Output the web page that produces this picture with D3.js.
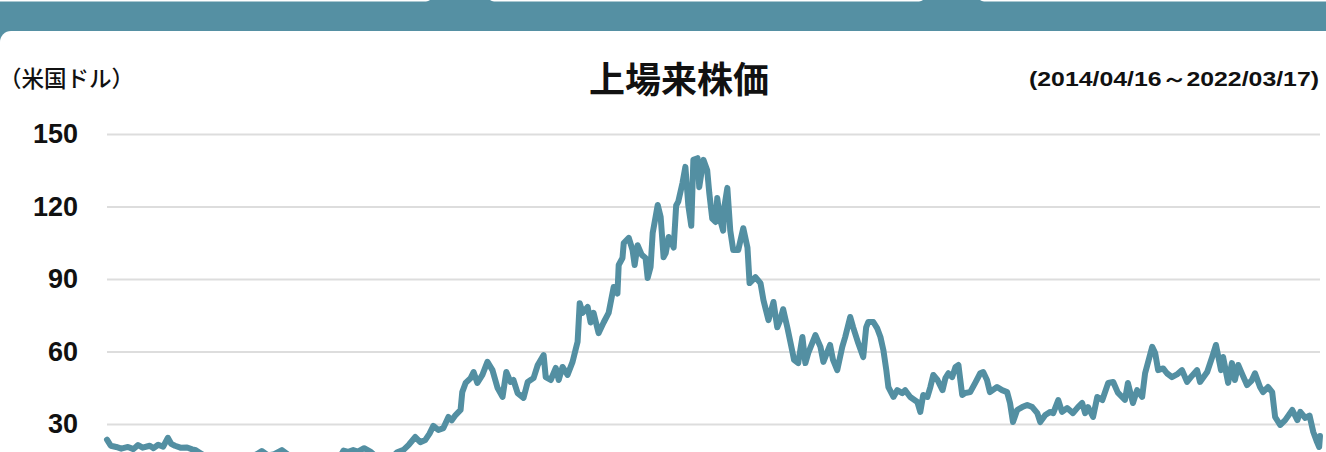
<!DOCTYPE html>
<html>
<head>
<meta charset="utf-8">
<script src="https://cdn.jsdelivr.net/npm/d3@7"></script>
<style>
  html, body { margin: 0; padding: 0; background: #fff; overflow: hidden; }
  #chart svg { display: block; }
</style>
</head>
<body>
<div id="chart"></div>
<script>
// price data
var dates = [
  '2014-04-16','2014-04-25','2014-05-08','2014-05-20','2014-06-05','2014-06-18','2014-06-29','2014-07-10',
  '2014-07-27','2014-08-05','2014-08-16','2014-08-28','2014-09-08','2014-09-16','2014-09-25','2014-10-08',
  '2014-10-24','2014-11-05','2014-11-12','2014-11-24','2014-12-08','2014-12-20',
  '2015-01-08','2015-01-25','2015-02-10','2015-02-25','2015-03-12','2015-03-26','2015-04-08','2015-04-20',
  '2015-05-05','2015-05-20','2015-06-07','2015-06-20','2015-07-08','2015-07-25','2015-08-12','2015-08-26',
  '2015-09-10','2015-09-25','2015-10-10','2015-10-22','2015-11-01','2015-11-12','2015-11-24','2015-12-05',
  '2015-12-20',
  '2016-01-05','2016-01-20','2016-02-05','2016-02-20','2016-03-08','2016-03-23','2016-04-05','2016-04-20',
  '2016-05-02','2016-05-14','2016-05-24','2016-06-02','2016-06-14','2016-06-26','2016-07-08','2016-07-16',
  '2016-07-25','2016-08-06','2016-08-10','2016-08-18','2016-08-30','2016-09-06','2016-09-15','2016-09-27',
  '2016-10-09','2016-10-21','2016-11-02','2016-11-14','2016-11-23','2016-12-03','2016-12-10','2016-12-20',
  '2017-01-03','2017-01-13','2017-01-27','2017-02-06','2017-02-20','2017-02-25','2017-03-09','2017-03-21',
  '2017-03-28','2017-04-06','2017-04-18','2017-04-30','2017-05-07','2017-05-12','2017-05-17','2017-05-24',
  '2017-06-05','2017-06-12','2017-06-19','2017-07-01','2017-07-13','2017-07-25','2017-08-06','2017-08-15',
  '2017-08-18','2017-08-27','2017-08-30','2017-09-11','2017-09-20','2017-09-25','2017-10-02','2017-10-12',
  '2017-10-21','2017-10-26','2017-11-02','2017-11-07','2017-11-14','2017-11-19','2017-11-26','2017-12-03',
  '2017-12-08','2017-12-15','2017-12-27',
  '2018-01-02','2018-01-07','2018-01-17','2018-01-24','2018-01-31','2018-02-07','2018-02-12','2018-02-22',
  '2018-02-26','2018-03-08','2018-03-17','2018-03-22','2018-03-29','2018-04-06','2018-04-10','2018-04-17',
  '2018-04-24','2018-04-27','2018-05-04','2018-05-11','2018-05-18','2018-05-30','2018-06-11','2018-06-21',
  '2018-06-26','2018-07-10','2018-07-22','2018-07-29','2018-08-10','2018-08-22','2018-08-31','2018-09-07',
  '2018-09-14','2018-09-24','2018-10-06','2018-10-10','2018-10-20','2018-10-30','2018-11-06','2018-11-13',
  '2018-11-30','2018-12-12','2018-12-19',
  '2019-01-04','2019-01-11','2019-01-21','2019-02-02','2019-02-09','2019-02-21','2019-02-28','2019-03-12',
  '2019-03-24','2019-03-31','2019-04-05','2019-04-17','2019-04-26','2019-05-04','2019-05-11','2019-05-18',
  '2019-05-23','2019-06-04','2019-06-13','2019-06-25','2019-07-02','2019-07-14','2019-07-31','2019-08-07',
  '2019-08-14','2019-08-24','2019-08-31','2019-09-07','2019-09-17','2019-09-29','2019-10-06','2019-10-13',
  '2019-10-22','2019-10-30','2019-11-06','2019-11-15','2019-11-22','2019-12-04','2019-12-16','2019-12-28',
  '2020-01-04','2020-01-13','2020-01-20','2020-02-06','2020-02-18','2020-03-01','2020-03-08','2020-03-15',
  '2020-03-25','2020-04-06','2020-04-18','2020-04-30','2020-05-12','2020-05-19','2020-05-31','2020-06-12',
  '2020-06-19','2020-07-01','2020-07-10','2020-07-22','2020-08-05','2020-08-17','2020-08-27','2020-09-03',
  '2020-09-10','2020-09-22','2020-10-02','2020-10-14','2020-10-28','2020-11-09','2020-11-20','2020-12-07',
  '2020-12-14','2020-12-26',
  '2021-01-05','2021-01-17','2021-01-24','2021-02-10','2021-02-17','2021-02-24','2021-03-08','2021-03-17',
  '2021-03-29','2021-04-10','2021-04-22','2021-05-04','2021-05-16','2021-05-28','2021-06-04','2021-06-21',
  '2021-07-03','2021-07-12','2021-07-24','2021-07-29','2021-08-10','2021-08-19','2021-08-26','2021-09-03',
  '2021-09-14','2021-09-24','2021-10-05','2021-10-13','2021-10-25','2021-11-01','2021-11-13','2021-11-23',
  '2021-11-30','2021-12-12','2021-12-24',
  '2022-01-10','2022-01-22','2022-01-29','2022-02-10','2022-02-20','2022-03-01','2022-03-10','2022-03-15',
  '2022-03-17'
];
var prices = [
  23.5,21,20.5,19.8,20.5,19.6,21.3,20.2,
  21,20,21.4,20.6,24.3,21.8,21,20.2,
  20.3,19.5,19.3,18,16.5,15.5,
  16,14.5,13.5,14,15.5,16.5,17.5,18.8,
  17,17.5,19.2,17.5,14,12.5,11,10.5,
  11.5,12.5,14,16,19,18.5,19.2,18.6,
  20,
  18.5,16,14.5,15.5,18.3,19.3,21.5,24.6,
  22.5,23.4,26,29.2,27.5,28.3,32.9,31.5,
  33.7,35.8,43.2,47,49,51.5,47,50.3,
  55.7,52.3,45,41.2,51.5,47.4,48.2,42.8,
  40.8,47.4,49,54.4,58.5,49.4,48.2,53.2,
  48.2,53.6,50.3,55.7,60.6,64,80,76,
  78.4,72,76,67.6,72,76,86.7,84,
  95.8,98.7,104.9,107,102,95.8,104,100,
  98.7,90.4,95,109,115.7,120.6,115.7,99,
  100.7,107.4,103,
  120.4,122,129.7,136.4,120.4,112,139.3,140,
  128,139.3,135,125.5,115,113.6,123.5,114.4,
  110,120,127.7,110,102,102,111,103,
  88.3,90.8,88.3,81.3,73,80.5,70,73,
  77.5,70,60,56.5,55.2,66,55.2,59.4,
  66.8,61.9,55.7,
  62.7,56.5,52.3,61.9,66,74.3,70,63.5,
  57.7,70,72.2,72.2,69.7,66,60.6,52.3,
  45.3,41.2,44,42.8,44,41.2,39.1,35,
  42,41.2,45.3,50.3,48.2,44,49,51,
  49.4,53.6,54.4,42,42.8,43.2,47,51,
  51.5,48.2,43.2,45.3,44,43.2,38.7,30.8,
  35.8,37,37.9,37,34.5,30.8,33.7,35,
  34.5,39.9,35,36.6,34.5,37,38.7,34.5,
  37,32.9,41.2,39.9,47,47.4,43,40,
  47,38.7,
  44,41.2,51,61.9,59.4,52.3,53,51,
  49.4,50.5,52.3,47.4,50,52.3,47.4,51.5,
  57.7,62.7,52.3,57.7,47,55.2,48.2,54.4,
  50,46.1,48,51,45.3,43.2,45.3,43.2,
  32.9,29.6,31.6,
  35.8,31.6,35,32.5,33.5,26.7,22.5,20.5,
  25
];
var yTicks = [30, 60, 90, 120, 150];
var unitLabel = '（米国ドル）';
var titleLabel = '上場来株価';
var periodLabel = '(2014/04/16～2022/03/17)';

var width = 1326, height = 452;
var teal = '#5590a3';
var jp = '"Noto Sans CJK JP", "Noto Sans", sans-serif';
var latin = '"Liberation Sans", Arial, sans-serif';

var svg = d3.select('#chart').append('svg')
  .attr('width', width).attr('height', height);

// header band + card
svg.append('rect').attr('x', 0).attr('y', 0).attr('width', width).attr('height', 44).attr('fill', teal);
svg.append('rect').attr('x', 0).attr('y', 31).attr('width', width + 60).attr('height', 500)
  .attr('rx', 11).attr('fill', '#fff');

// bottoms of the tabs above
var tabs = [[-20, 432], [488, 925], [978, width + 20]];
svg.selectAll('.tab').data(tabs).enter().append('rect')
  .attr('class', 'tab')
  .attr('x', function(d) { return d[0]; })
  .attr('y', -10)
  .attr('width', function(d) { return d[1] - d[0]; })
  .attr('height', 11.5)
  .attr('rx', 6)
  .attr('fill', '#fff');

// scales
var parse = d3.timeParse('%Y-%m-%d');
var data = dates.map(function(d, i) { return { date: parse(d), value: prices[i] }; });

var x = d3.scaleTime()
  .domain(d3.extent(data, function(d) { return d.date; }))
  .range([107, 1320]);
var y = d3.scaleLinear()
  .domain([0, 150])
  .range([496.5, 134]);

// grid + y labels
var yAxis = d3.axisLeft(y)
  .tickValues(yTicks)
  .tickSize(-(1320 - 107))
  .tickPadding(29)
  .tickFormat(d3.format('d'));

var gy = svg.append('g')
  .attr('transform', 'translate(107,0)')
  .call(yAxis);
gy.select('.domain').remove();
gy.selectAll('.tick line').attr('stroke', '#dddddd').attr('stroke-width', 2);
gy.selectAll('.tick text')
  .attr('fill', '#111')
  .style('font-family', latin)
  .style('font-size', '27px')
  .style('font-weight', 'bold');

// price line
var line = d3.line()
  .x(function(d) { return x(d.date); })
  .y(function(d) { return y(d.value); });

svg.append('path')
  .datum(data)
  .attr('d', line)
  .attr('fill', 'none')
  .attr('stroke', '#538fa2')
  .attr('stroke-width', 6)
  .attr('stroke-linejoin', 'round')
  .attr('stroke-linecap', 'round');

// texts
svg.append('text')
  .attr('x', -1).attr('y', 77)
  .attr('dominant-baseline', 'central')
  .style('font-family', jp)
  .style('font-size', '22.5px')
  .style('font-weight', 500)
  .attr('fill', '#111')
  .text(unitLabel);

svg.append('text')
  .attr('x', 679).attr('y', 77)
  .attr('text-anchor', 'middle')
  .attr('dominant-baseline', 'central')
  .style('font-family', jp)
  .style('font-size', '36px')
  .style('font-weight', 'bold')
  .attr('fill', '#111')
  .text(titleLabel);

svg.append('text')
  .attr('x', 1029).attr('y', 78)
  .attr('dominant-baseline', 'central')
  .attr('textLength', 290)
  .attr('lengthAdjust', 'spacingAndGlyphs')
  .style('font-family', latin)
  .style('font-size', '21px')
  .style('font-weight', 'bold')
  .attr('fill', '#111')
  .text(periodLabel);
</script>
</body>
</html>
